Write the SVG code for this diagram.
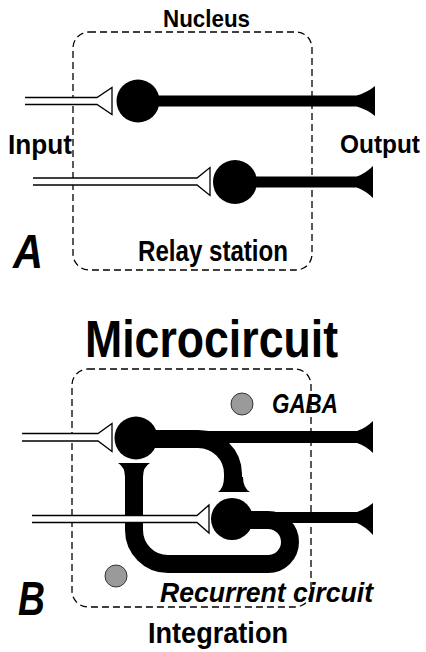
<svg xmlns="http://www.w3.org/2000/svg" width="426" height="652" viewBox="0 0 426 652">
<defs>
<style>
.t{font-family:"Liberation Sans",Arial,sans-serif;font-weight:bold;fill:#000}
.i{font-style:italic}
.box{fill:none;stroke:#000;stroke-width:1.3;stroke-dasharray:7 4}
.in{fill:#fff;stroke:#000;stroke-width:1.3;stroke-linejoin:miter}
.soma{fill:#000}
.ax{stroke:#000;fill:none}
.term{fill:#000}
.gaba{fill:#9a9a9a;stroke:#333;stroke-width:1}
</style>
</defs>
<rect width="426" height="652" fill="#fff"/>

<!-- Panel A -->
<rect class="box" x="73" y="32" width="239" height="238" rx="16"/>
<g id="a1">
<path class="in" d="M25 97.5 H97 L112 87.5 V114.5 L97 104.5 H25"/>
<line class="ax" x1="150" y1="101" x2="362" y2="101" stroke-width="11"/>
<circle class="soma" cx="138" cy="101" r="21.5"/>
<path class="term" d="M357 95.5 Q368 92 375 86 V116 Q368 110 357 106.5 Z"/>
</g>
<g id="a2">
<path class="in" d="M33 178 H197 L210 167.5 V195.5 L197 185 H33"/>
<line class="ax" x1="245" y1="182" x2="362" y2="182" stroke-width="11"/>
<circle class="soma" cx="235" cy="182" r="22"/>
<path class="term" d="M357 176.5 Q366 173 373 166 V198 Q366 191 357 187.5 Z"/>
</g>
<text class="t" x="163" y="27" font-size="24" textLength="87" lengthAdjust="spacingAndGlyphs">Nucleus</text>
<text class="t" x="8" y="154" font-size="27" textLength="64" lengthAdjust="spacingAndGlyphs">Input</text>
<text class="t" x="340" y="153" font-size="25" textLength="80" lengthAdjust="spacingAndGlyphs">Output</text>
<text class="t" x="138" y="261" font-size="30" textLength="150" lengthAdjust="spacingAndGlyphs">Relay station</text>
<text class="t i" x="13" y="268" font-size="48" textLength="30" lengthAdjust="spacingAndGlyphs">A</text>

<!-- Panel B -->
<text class="t" x="85" y="357" font-size="51" textLength="253" lengthAdjust="spacingAndGlyphs">Microcircuit</text>
<rect class="box" x="72" y="369" width="239" height="238" rx="16"/>
<circle id="gaba1" class="gaba" cx="242" cy="404" r="11"/>
<circle id="gaba2" class="gaba" cx="116" cy="576" r="11"/>
<text class="t i" x="272" y="413" font-size="28" textLength="66" lengthAdjust="spacingAndGlyphs">GABA</text>

<g id="connectors">
<!-- B1 collateral onto B2 -->
<path class="ax" d="M150 439 H198 A35 35 0 0 1 233 474 V480" stroke-width="18"/>
<path class="term" d="M224 477 Q224 488 218 492 H250 Q243 488 243 477 Z"/>
<!-- B2 recurrent loop onto B1 -->
<path class="ax" d="M245 520 H268 A22 22 0 0 1 268 564 H168 A34 34 0 0 1 134 530 V474" stroke-width="18"/>
<path class="term" d="M125 477 Q125 467 118 463 H150 Q143 467 143 477 Z"/>
</g>

<g id="b1">
<path class="in" d="M22 433.5 H98 L112 423.5 V451.5 L98 441 H22"/>
<line class="ax" x1="150" y1="437" x2="362" y2="437" stroke-width="12"/>
<circle class="soma" cx="136" cy="438" r="21.5"/>
<path class="term" d="M357 431 Q366 428 373 421 V453 Q366 446 357 443 Z"/>
</g>
<g id="b2">
<path class="in" d="M32 515.5 H197 L209 505 V533 L197 522.5 H32"/>
<line class="ax" x1="250" y1="517.5" x2="362" y2="517.5" stroke-width="11"/>
<circle class="soma" cx="232" cy="519" r="21"/>
<path class="term" d="M357 512 Q366 509 373 503 V535 Q366 527 357 523 Z"/>
</g>

<text class="t i" x="18" y="615" font-size="48" textLength="27" lengthAdjust="spacingAndGlyphs">B</text>
<text class="t i" x="160" y="602" font-size="28" textLength="213" lengthAdjust="spacingAndGlyphs">Recurrent circuit</text>
<text class="t" x="148" y="643" font-size="29" textLength="140" lengthAdjust="spacingAndGlyphs">Integration</text>
</svg>
